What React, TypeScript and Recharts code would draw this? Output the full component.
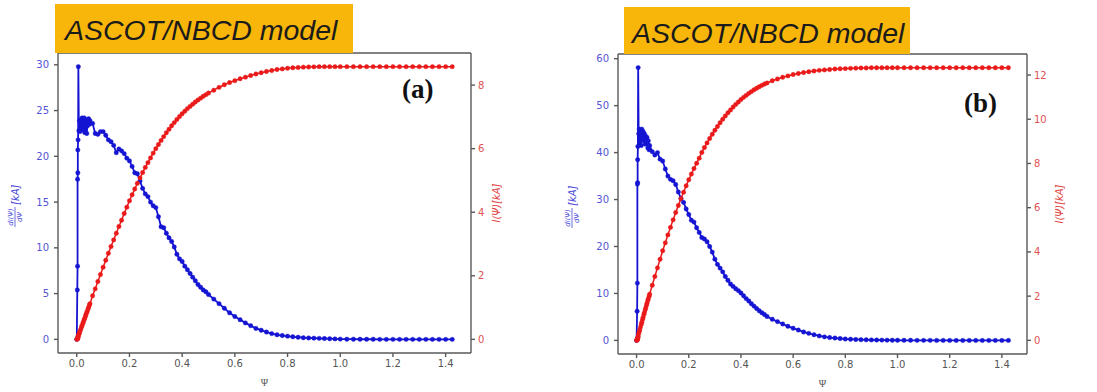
import { LineChart, Line, XAxis, YAxis, ReferenceLine } from "recharts";

// normalised flux grid (dense near the axis)
const psi = [
  0, 0.002, 0.003, 0.003, 0.004, 0.004, 0.005, 0.006,
  0.008, 0.01, 0.012, 0.015, 0.018, 0.02, 0.023, 0.025, 0.028, 0.03, 0.033, 0.035, 0.038, 0.04, 0.043, 0.045, 0.048, 0.05,
  0.06, 0.07, 0.08, 0.09, 0.1, 0.11, 0.12, 0.13, 0.14, 0.15, 0.16, 0.17, 0.18, 0.19, 0.2,
  0.21, 0.22, 0.23, 0.24, 0.25, 0.26, 0.27, 0.28, 0.29, 0.3, 0.31, 0.32, 0.33, 0.34, 0.35,
  0.36, 0.37, 0.38, 0.39, 0.4, 0.41, 0.42, 0.43, 0.44, 0.45, 0.46, 0.47, 0.48, 0.49, 0.5,
  0.52, 0.54, 0.56, 0.58, 0.6, 0.62, 0.64, 0.66, 0.68, 0.7, 0.72, 0.74, 0.76, 0.78, 0.8,
  0.82, 0.84, 0.86, 0.88, 0.9, 0.92, 0.94, 0.96, 0.98, 1.0,
  1.025, 1.05, 1.075, 1.1, 1.125, 1.15, 1.175, 1.2, 1.225, 1.25, 1.275, 1.3, 1.325, 1.35, 1.375, 1.4, 1.425,
];

// panel (a)
const dIdPsiA = [
  0, 5.4, 8.0, 17.5, 18.2, 20.7, 21.8, 29.8,
  22.8, 23.9, 22.7, 24.0, 23.0, 24.2, 22.9, 23.6, 24.2, 22.6, 23.4, 24.0, 22.5, 23.3, 23.8, 24.1, 23.5, 23.9,
  23.6, 22.5, 22.4, 22.7, 22.7, 22.3, 21.8, 21.6, 21.2, 20.4, 20.8, 20.6, 20.3, 19.8, 19.5,
  18.9, 18.2, 18.1, 17.3, 16.5, 15.9, 15.6, 15.0, 14.6, 14.4, 13.4, 12.3, 12.2, 11.6, 11.1,
  10.7, 10.1, 9.3, 8.8, 8.5, 8.0, 7.6, 7.2, 6.8, 6.4, 6.0, 5.7, 5.4, 5.2, 4.9,
  4.4, 3.9, 3.4, 2.9, 2.5, 2.15, 1.8, 1.5, 1.2, 1.0, 0.8, 0.63, 0.5, 0.42, 0.35,
  0.28, 0.23, 0.18, 0.15, 0.13, 0.11, 0.09, 0.07, 0.05, 0.03,
  0.02, 0.02, 0.01, 0.01, 0.01, 0, 0, 0, 0, 0, 0, 0, 0, 0, 0, 0, 0,
];
const currentA = [
  0, 0.01, 0.02, 0.03, 0.05, 0.06, 0.08, 0.11,
  0.16, 0.2, 0.25, 0.32, 0.39, 0.43, 0.5, 0.55, 0.62, 0.66, 0.73, 0.78, 0.85, 0.89, 0.96, 1.01, 1.08, 1.12,
  1.37, 1.59, 1.82, 2.04, 2.27, 2.49, 2.71, 2.92, 3.13, 3.34, 3.55, 3.75, 3.96, 4.16, 4.36,
  4.55, 4.73, 4.91, 5.08, 5.25, 5.41, 5.56, 5.71, 5.86, 6.0, 6.13, 6.26, 6.38, 6.5, 6.61,
  6.72, 6.82, 6.92, 7.01, 7.1, 7.18, 7.26, 7.33, 7.4, 7.47, 7.53, 7.59, 7.65, 7.7, 7.75,
  7.84, 7.93, 8.01, 8.08, 8.14, 8.2, 8.25, 8.3, 8.35, 8.39, 8.43, 8.46, 8.49, 8.51, 8.53,
  8.545, 8.555, 8.565, 8.57, 8.575, 8.58, 8.58, 8.58, 8.58, 8.58,
  8.58, 8.58, 8.58, 8.58, 8.58, 8.58, 8.58, 8.58, 8.58, 8.58, 8.58, 8.58, 8.58, 8.58, 8.58, 8.58, 8.58,
];

// panel (b)
const dIdPsiB = [
  0, 6.2, 12.2, 33.3, 33.6, 38.5, 41.3, 58.1,
  44.0, 45.0, 42.0, 44.5, 41.5, 45.0, 43.0, 44.5, 42.5, 44.0, 41.8, 43.5, 42.2, 43.2, 41.0, 42.5, 40.6, 41.5,
  40.2, 39.5, 40.0, 38.6, 38.2, 36.5, 35.0, 34.3, 34.0, 33.2, 31.6, 30.2, 29.4, 28.0, 26.8,
  25.6, 25.2, 24.0, 23.0, 21.9, 21.6, 21.0, 20.0, 18.8, 17.3, 16.2, 15.4, 14.6, 13.6, 12.8,
  12.0, 11.5, 11.0, 10.6, 10.1, 9.5, 8.9, 8.4, 7.8, 7.3, 6.8, 6.3, 5.9, 5.5, 5.1,
  4.5, 4.0, 3.5, 3.0, 2.6, 2.2, 1.8, 1.5, 1.2, 0.95, 0.75, 0.6, 0.5, 0.4, 0.3,
  0.25, 0.2, 0.16, 0.13, 0.1, 0.08, 0.06, 0.05, 0.04, 0.03,
  0.02, 0.02, 0.01, 0.01, 0.01, 0, 0, 0, 0, 0, 0, 0, 0, 0, 0, 0, 0,
];
const currentB = [
  0, 0.01, 0.03, 0.05, 0.08, 0.1, 0.13, 0.18,
  0.3, 0.39, 0.47, 0.6, 0.73, 0.82, 0.95, 1.04, 1.17, 1.25, 1.38, 1.46, 1.59, 1.68, 1.8, 1.88, 2.0, 2.09,
  2.49, 2.89, 3.28, 3.67, 4.05, 4.41, 4.77, 5.11, 5.45, 5.78, 6.1, 6.41, 6.7, 6.99, 7.26,
  7.52, 7.77, 8.01, 8.24, 8.5, 8.72, 8.93, 9.13, 9.32, 9.5, 9.67, 9.84, 10.0, 10.15, 10.29,
  10.42, 10.55, 10.67, 10.78, 10.89, 10.99, 11.08, 11.17, 11.25, 11.33, 11.4, 11.47, 11.53, 11.59, 11.64,
  11.74, 11.82, 11.9, 11.96, 12.02, 12.07, 12.11, 12.15, 12.18, 12.21, 12.23, 12.25, 12.27, 12.28, 12.29,
  12.3, 12.31, 12.32, 12.32, 12.33, 12.33, 12.33, 12.33, 12.33, 12.33,
  12.33, 12.33, 12.33, 12.33, 12.33, 12.33, 12.33, 12.33, 12.33, 12.33, 12.33, 12.33, 12.33, 12.33, 12.33, 12.33, 12.33,
];

const psiTicks = [0, 0.2, 0.4, 0.6, 0.8, 1.0, 1.2, 1.4];
const leftTicksA = [0, 5, 10, 15, 20, 25, 30];
const rightTicksA = [0, 2, 4, 6, 8];
const leftTicksB = [0, 10, 20, 30, 40, 50, 60];
const rightTicksB = [0, 2, 4, 6, 8, 10, 12];

const BLUE = "#1414d2";
const RED = "#ea1a1a";
const FRAME = "#595959";
const TITLE = "ASCOT/NBCD model";

const rows = (d: number[], c: number[]) => psi.map((x, i) => ({ psi: x, d: d[i], c: c[i] }));

function LeftLabel({ viewBox, dx }: any) {
  const vb = viewBox || { x: 0, y: 0, height: 0 };
  const cx = vb.x + dx;
  const cy = vb.y + vb.height / 2;
  return (
    <g transform={`translate(${cx},${cy}) rotate(-90)`} fill="#4b4bd6" fontFamily="DejaVu Sans" fontStyle="italic">
      <text x={-14} y={-2.5} fontSize={7} textAnchor="middle">dI(Ψ)</text>
      <line x1={-24} x2={-4} y1={0} y2={0} stroke="#4b4bd6" strokeWidth={0.8} />
      <text x={-14} y={7} fontSize={7} textAnchor="middle">dΨ</text>
      <text x={-2} y={3.5} fontSize={10}>[kA]</text>
    </g>
  );
}

function RightLabel({ viewBox, dx }: any) {
  const vb = viewBox || { x: 0, y: 0, height: 0 };
  const cx = vb.x + dx;
  const cy = vb.y + vb.height / 2;
  return (
    <text
      transform={`translate(${cx},${cy}) rotate(-90)`}
      textAnchor="middle"
      dominantBaseline="middle"
      fontSize={10}
      fontFamily="DejaVu Sans"
      fontStyle="italic"
      fill="#e04646"
    >
      I(Ψ)[kA]
    </text>
  );
}

interface PanelProps {
  x: number;
  width: number;
  margin: { top: number; right: number; bottom: number; left: number };
  d: number[];
  c: number[];
  leftDomain: [number, number];
  leftTicks: number[];
  rightDomain: [number, number];
  rightTicks: number[];
  leftDx: number;
  rightDx: number;
  box: { x: number; y: number; w: number; h: number; tx: number; ty: number };
  tag: string;
  tagX: number;
  tagY: number;
}

function Panel(p: PanelProps) {
  const tickFont = { fontSize: 10, fontFamily: "DejaVu Sans" };
  return (
    <div style={{ position: "absolute", left: p.x, top: 0, width: p.width, height: 392 }}>
      <LineChart width={p.width} height={392} data={rows(p.d, p.c)} margin={p.margin}>
        <XAxis
          dataKey="psi"
          type="number"
          domain={[-0.07125, 1.49625]}
          allowDataOverflow
          ticks={psiTicks}
          tickFormatter={(v: number) => v.toFixed(1)}
          height={30}
          tickSize={4}
          tickMargin={3}
          stroke={FRAME}
          strokeWidth={1.4}
          tick={{ ...tickFont, fill: "#555" }}
          label={{ value: "Ψ", position: "insideBottom", offset: -3, fontSize: 10, fill: "#555" }}
        />
        <YAxis
          yAxisId="left"
          type="number"
          domain={p.leftDomain}
          allowDataOverflow
          ticks={p.leftTicks}
          width={40}
          tickSize={4}
          tickMargin={5}
          stroke={FRAME}
          strokeWidth={1.4}
          tick={{ ...tickFont, fill: "#5454d4" }}
          label={{ content: (lp: any) => <LeftLabel viewBox={lp.viewBox} dx={p.leftDx} /> }}
        />
        <YAxis
          yAxisId="right"
          orientation="right"
          type="number"
          domain={p.rightDomain}
          allowDataOverflow
          ticks={p.rightTicks}
          width={40}
          tickSize={4}
          tickMargin={3}
          stroke={FRAME}
          strokeWidth={1.4}
          tick={{ ...tickFont, fill: "#e05252" }}
          label={{ content: (lp: any) => <RightLabel viewBox={lp.viewBox} dx={p.rightDx} /> }}
        />
        <ReferenceLine yAxisId="left" y={p.leftDomain[1]} stroke={FRAME} strokeWidth={1.4} ifOverflow="visible" />
        <Line
          yAxisId="left"
          dataKey="d"
          type="linear"
          stroke={BLUE}
          strokeWidth={1.8}
          dot={{ r: 2.2, fill: BLUE, stroke: BLUE, strokeWidth: 0.4 }}
          activeDot={false}
          isAnimationActive={false}
        />
        <Line
          yAxisId="right"
          dataKey="c"
          type="linear"
          stroke={RED}
          strokeWidth={1.5}
          dot={{ r: 2.2, fill: RED, stroke: RED, strokeWidth: 0.4 }}
          activeDot={false}
          isAnimationActive={false}
        />
      </LineChart>
      <svg width={p.width} height={392} style={{ position: "absolute", left: 0, top: 0, pointerEvents: "none" }}>
        <rect x={p.box.x} y={p.box.y} width={p.box.w} height={p.box.h} fill="#f8b60a" />
        <text x={p.box.tx} y={p.box.ty} fontSize={28.5} fontStyle="italic" fontFamily="Liberation Sans" fill="#1b1b1b">
          {TITLE}
        </text>
        <text x={p.tagX} y={p.tagY} fontSize={27} fontWeight="bold" fontFamily="Liberation Serif" fill="#111">
          {p.tag}
        </text>
      </svg>
    </div>
  );
}

export default function App() {
  return (
    <div style={{ position: "absolute", left: 0, top: 0, width: 1097, height: 392, background: "#fff", overflow: "hidden" }}>
      <Panel
        x={0}
        width={545}
        margin={{ top: 53, right: 34, bottom: 9, left: 18 }}
        d={dIdPsiA}
        c={currentA}
        leftDomain={[-1.49, 31.29]}
        leftTicks={leftTicksA}
        rightDomain={[-0.429, 9.01]}
        rightTicks={rightTicksA}
        leftDx={-3}
        rightDx={26}
        box={{ x: 55, y: 4, w: 298, h: 49, tx: 65, ty: 40 }}
        tag="(a)"
        tagX={402}
        tagY={98}
      />
      <Panel
        x={549}
        width={548}
        margin={{ top: 54, right: 30, bottom: 8, left: 29 }}
        d={dIdPsiB}
        c={currentB}
        leftDomain={[-2.9, 61.0]}
        leftTicks={leftTicksB}
        rightDomain={[-0.617, 12.95]}
        rightTicks={rightTicksB}
        leftDx={-6}
        rightDx={33}
        box={{ x: 75, y: 7, w: 286, h: 47, tx: 83, ty: 43 }}
        tag="(b)"
        tagX={415}
        tagY={112}
      />
    </div>
  );
}
